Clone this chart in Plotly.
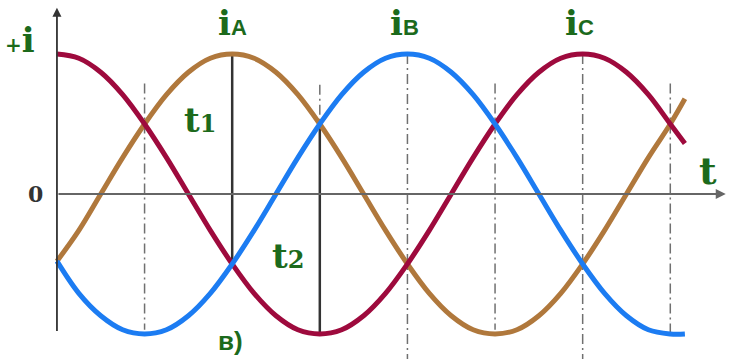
import plotly.graph_objects as go

# phase angle (degrees) and the three phase currents
deg = [0, 15, 30, 45, 60, 75, 90, 105, 120, 135, 150, 165, 180, 195, 210, 225, 240, 255,
       270, 285, 300, 315, 330, 345, 360, 375, 390, 405, 420, 430]
i_a = [-0.48, -0.26, 0, 0.26, 0.5, 0.71, 0.87, 0.97, 1, 0.97, 0.87, 0.71, 0.5, 0.26, 0,
       -0.26, -0.5, -0.71, -0.87, -0.97, -1, -0.97, -0.87, -0.71, -0.5, -0.26, 0, 0.26, 0.5, 0.68]
i_b = [-0.48, -0.71, -0.87, -0.97, -1, -0.97, -0.87, -0.71, -0.5, -0.26, 0, 0.26, 0.5, 0.71,
       0.87, 0.97, 1, 0.97, 0.87, 0.71, 0.5, 0.26, 0, -0.26, -0.5, -0.71, -0.87, -0.97, -1, -1]
i_c = [1, 0.97, 0.87, 0.71, 0.5, 0.26, 0, -0.26, -0.5, -0.71, -0.87, -0.97, -1, -0.97, -0.87,
       -0.71, -0.5, -0.26, 0, 0.26, 0.5, 0.71, 0.87, 0.97, 1, 0.97, 0.87, 0.71, 0.5, 0.36]

# guide lines: (angle, top, bottom)
short_guides = [(60, 0.79, -0.97), (300, 0.79, -0.97), (420, 0.79, -1.0), (180, 0.78, 0.5)]
long_guides = [(240, 1.0, -1.2), (360, 1.0, -1.2)]
solid_guides = [(120, 1.0, -0.5), (180, 0.5, -1.0)]

RED = '#9e0a3d'
BROWN = '#b0783c'
BLUE = '#1c7cf2'
GREEN = '#1c6a1c'

fig = go.Figure()
for ys, col in [(i_a, BROWN), (i_c, RED), (i_b, BLUE)]:
    fig.add_trace(go.Scatter(x=deg, y=ys, mode='lines', line=dict(color=col, width=5, shape='spline', smoothing=1.0),
                             hoverinfo='skip'))

for a, y0, y1 in short_guides + long_guides:
    fig.add_shape(type='line', x0=a, x1=a, y0=y0, y1=y1, layer='below',
                  line=dict(color='#707070', width=1.5, dash='10px,4px,2px,4px'))
for a, y0, y1 in solid_guides:
    fig.add_shape(type='line', x0=a, x1=a, y0=y0, y1=y1, layer='below',
                  line=dict(color='#333333', width=2.5))

# axes with arrows
fig.add_annotation(x=0, y=1.33, ax=0, ay=-0.99, axref='x', ayref='y', text='', showarrow=True,
                   arrowhead=2, arrowsize=1, arrowwidth=1.8, arrowcolor='#333333')
fig.add_annotation(x=458, y=0, ax=0, ay=0, axref='x', ayref='y', text='', showarrow=True,
                   arrowhead=2, arrowsize=1, arrowwidth=2, arrowcolor='#666666')

serif = 'DejaVu Serif'
labels = [
    (-25, 1.1, "<span style='font-size:20px'>+</span>i", 34, GREEN, serif),
    (-15, 0.0, '0', 22, '#333333', serif),
    (446, 0.17, 't', 38, GREEN, serif),
    (120, 1.22, "i<span style='font-size:22px;font-family:Liberation Sans'>A</span>", 34, GREEN, serif),
    (238, 1.22, "i<span style='font-size:22px;font-family:Liberation Sans'>B</span>", 34, GREEN, serif),
    (358, 1.22, "i<span style='font-size:22px;font-family:Liberation Sans'>C</span>", 34, GREEN, serif),
    (98, 0.53, "t<span style='font-size:24px'>1</span>", 34, GREEN, serif),
    (158, -0.44, "t<span style='font-size:24px'>2</span>", 34, GREEN, serif),
    (119, -1.05, 'в)', 26, GREEN, 'Liberation Sans'),
]
for x, y, t, s, c, f in labels:
    fig.add_annotation(x=x, y=y, text='<b>' + t + '</b>', showarrow=False,
                       font=dict(size=s, color=c, family=f))

fig.update_layout(width=736, height=359, margin=dict(l=0, r=0, t=0, b=0),
                  paper_bgcolor='white', plot_bgcolor='white', showlegend=False,
                  xaxis=dict(range=[-39, 465], visible=False, fixedrange=True),
                  yaxis=dict(range=[-1.179, 1.386], visible=False, fixedrange=True))
fig.write_html('out.html', config={'displayModeBar': False},
               post_script="document.body.style.margin='0';")
